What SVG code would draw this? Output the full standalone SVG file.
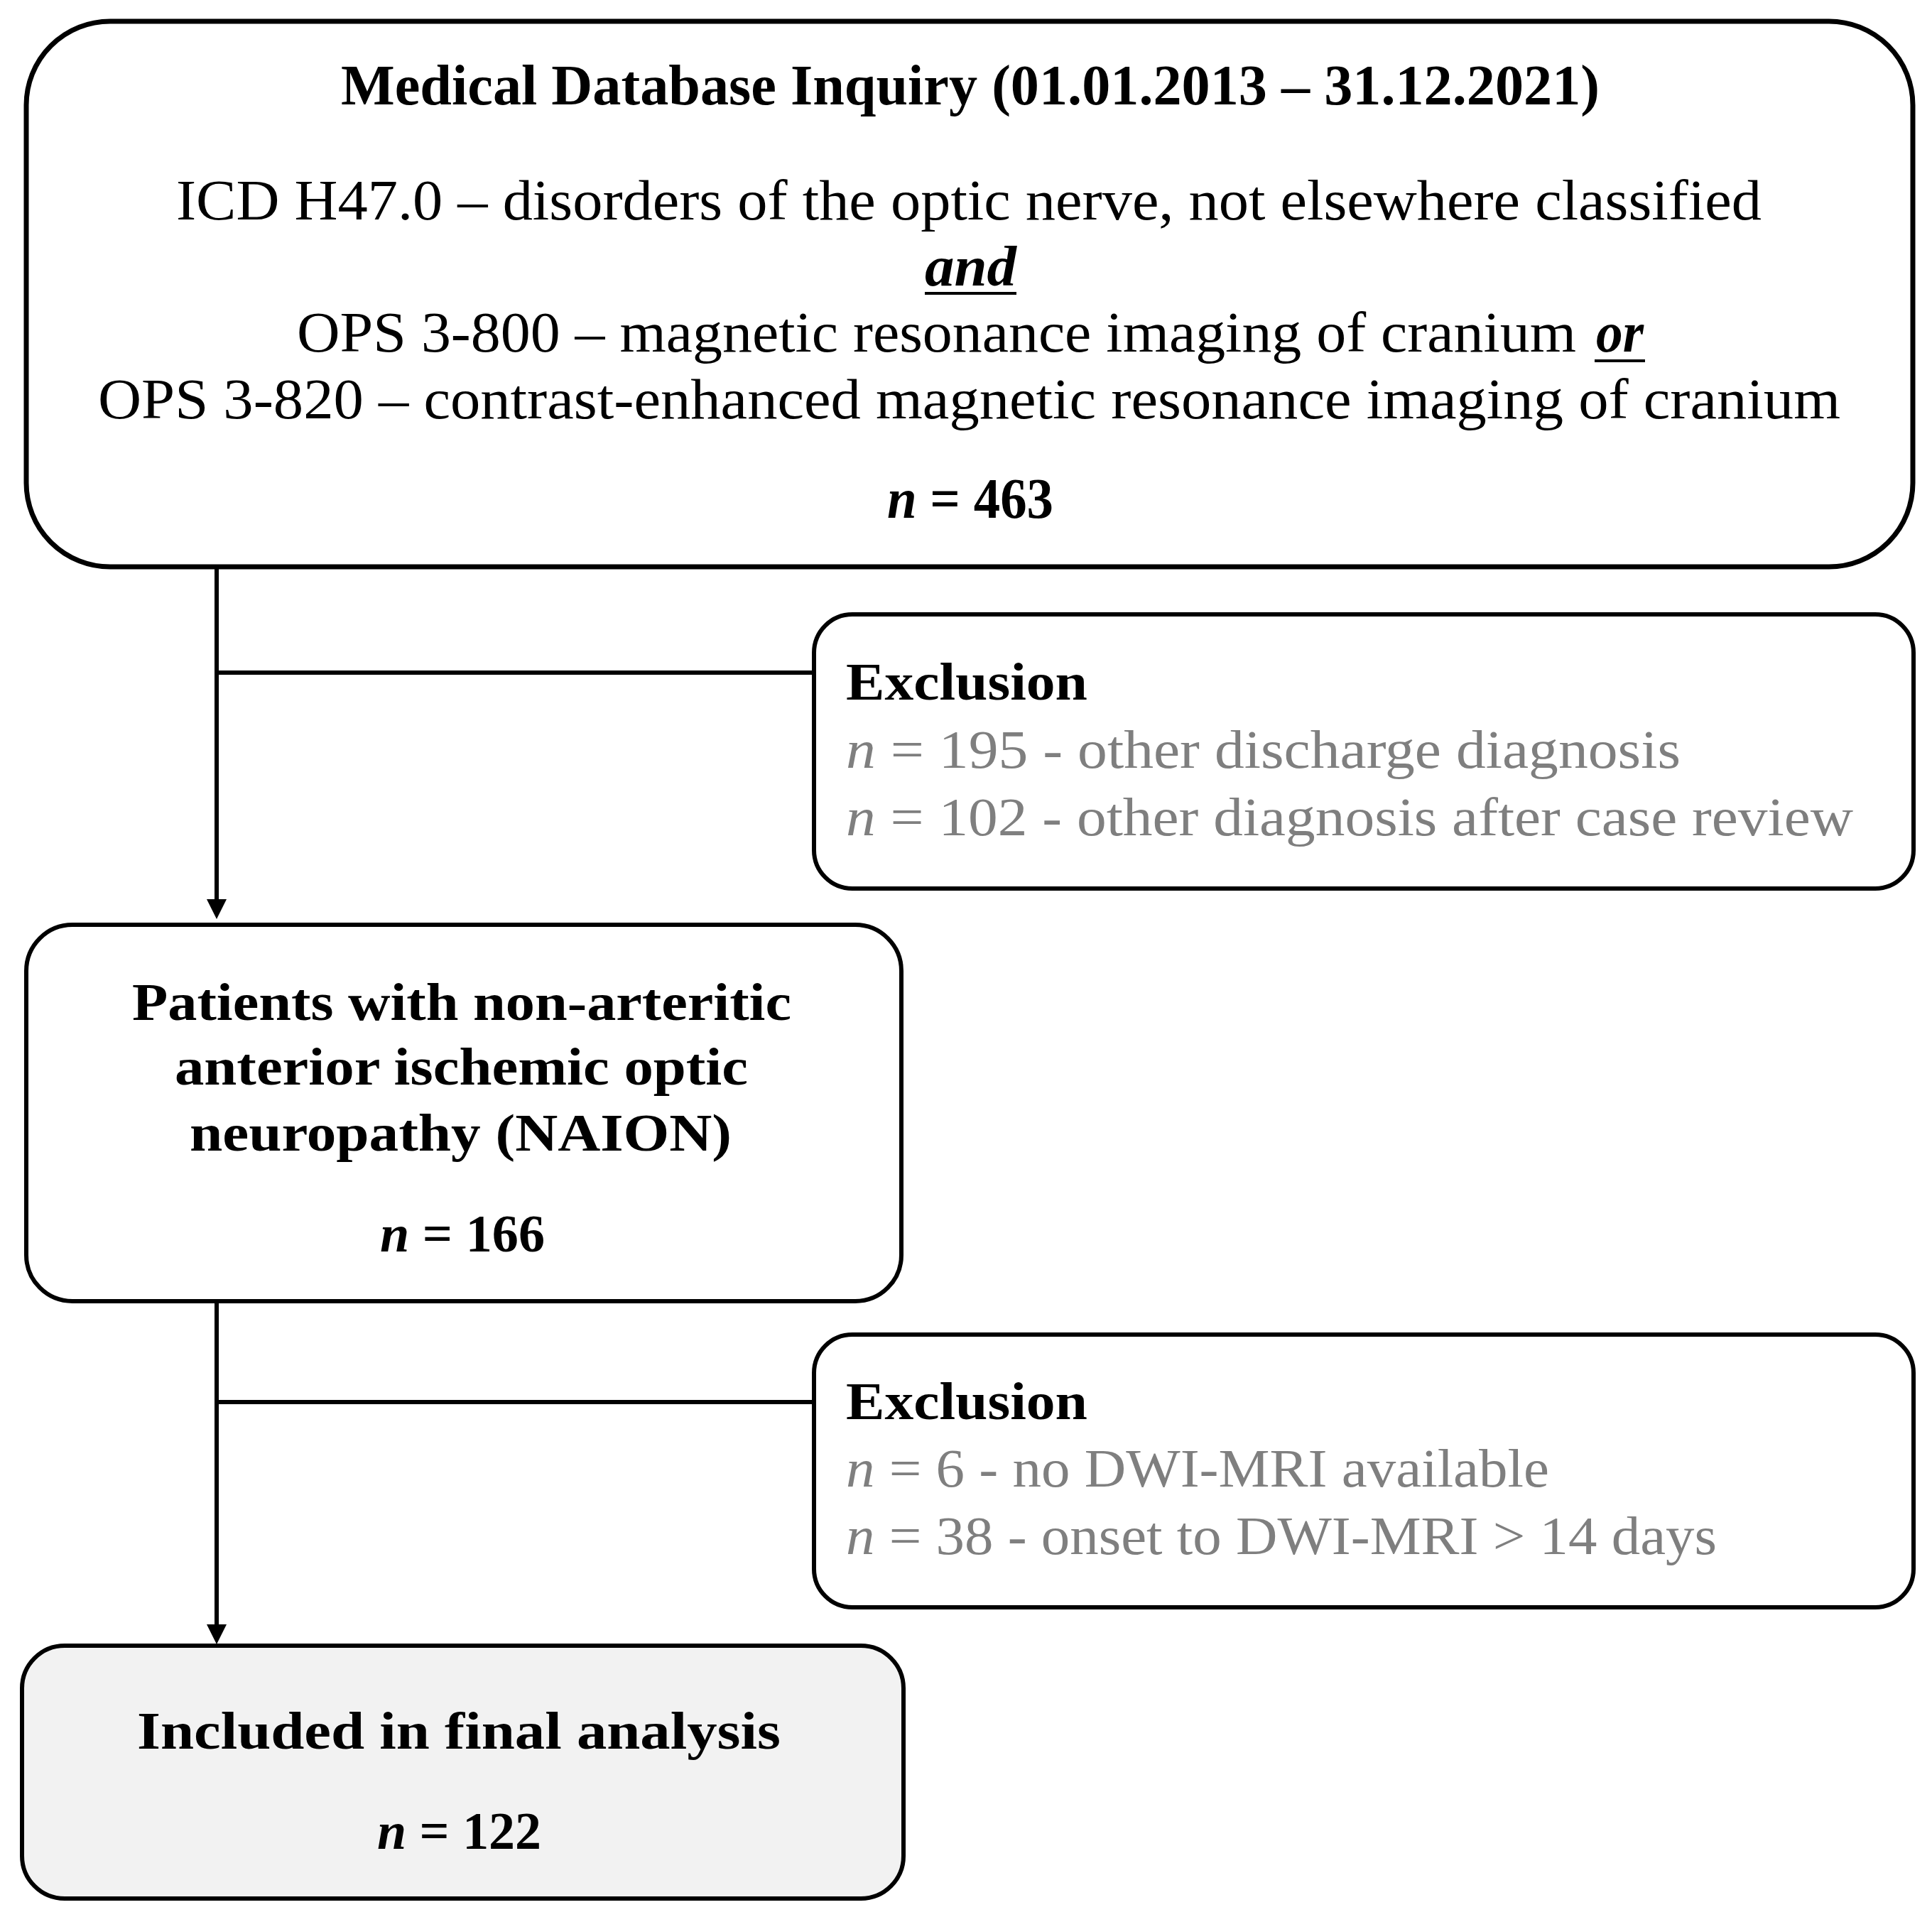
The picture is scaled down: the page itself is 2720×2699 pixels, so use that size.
<svg xmlns="http://www.w3.org/2000/svg" width="2720" height="2699" viewBox="0 0 2720 2699">
<style>
.box{fill:#ffffff;stroke:#000000;stroke-width:7}
.box2{fill:#ffffff;stroke:#000000;stroke-width:6}
.fin{fill:#f2f2f2;stroke:#000000;stroke-width:6}
.conn{stroke:#000000;stroke-width:6;fill:none}
text{font-family:"Liberation Serif","Times New Roman",serif;fill:#000000}
.b{font-weight:bold}
.i{font-style:italic}
.g{fill:#7f7f7f}
.t80{font-size:80px}
.t74{font-size:74px}
.t76{font-size:76px}
</style>
<defs>
<marker id="arr" markerUnits="userSpaceOnUse" markerWidth="28" markerHeight="28" refX="18" refY="14" orient="auto">
<path d="M0,0 L28,14 L0,28 z" fill="#000000"/>
</marker>
</defs>
<rect width="2720" height="2699" fill="#ffffff"/>

<g id="connectors">
<path class="conn" d="M305,798 V1284" marker-end="url(#arr)"/>
<path class="conn" d="M305,947 H1146"/>
<path class="conn" d="M305,1832 V2305" marker-end="url(#arr)"/>
<path class="conn" d="M305,1974 H1146"/>
</g>

<g id="node-database">
<rect class="box" x="37" y="30" width="2656" height="768" rx="118" ry="118"/>
<text class="t80 b" x="480" y="147" textLength="1772" lengthAdjust="spacingAndGlyphs">Medical Database Inquiry (01.01.2013 – 31.12.2021)</text>
<text class="t80" x="248" y="309" textLength="2232" lengthAdjust="spacingAndGlyphs">ICD H47.0 – disorders of the optic nerve, not elsewhere classified</text>
<text class="t80 b i" x="1302" y="402" textLength="129" lengthAdjust="spacingAndGlyphs">and</text>
<line x1="1302" y1="413" x2="1431" y2="413" stroke="#000000" stroke-width="4"/>
<text class="t80" x="418" y="495" textLength="1801" lengthAdjust="spacingAndGlyphs">OPS 3-800 – magnetic resonance imaging of cranium</text>
<text class="t80 b i" x="2247" y="495" textLength="67" lengthAdjust="spacingAndGlyphs">or</text>
<line x1="2245" y1="508" x2="2316" y2="508" stroke="#000000" stroke-width="4"/>
<text class="t80" x="138" y="589" textLength="2453" lengthAdjust="spacingAndGlyphs">OPS 3-820 – contrast-enhanced magnetic resonance imaging of cranium</text>
<text class="t80 b" x="1249" y="729" textLength="234" lengthAdjust="spacingAndGlyphs"><tspan class="i">n</tspan> = 463</text>
</g>

<g id="node-exclusion1">
<rect class="box2" x="1146" y="865" width="1548" height="386" rx="54" ry="54"/>
<text class="t74 b" x="1191" y="985" textLength="340" lengthAdjust="spacingAndGlyphs">Exclusion</text>
<text class="t76 g" x="1191" y="1081" textLength="1175" lengthAdjust="spacingAndGlyphs"><tspan class="i">n</tspan> = 195 - other discharge diagnosis</text>
<text class="t76 g" x="1191" y="1176" textLength="1418" lengthAdjust="spacingAndGlyphs"><tspan class="i">n</tspan> = 102 - other diagnosis after case review</text>
</g>

<g id="node-naion">
<rect class="box2" x="37" y="1302" width="1232" height="530" rx="65" ry="65"/>
<text class="t74 b" x="186" y="1436" textLength="928" lengthAdjust="spacingAndGlyphs">Patients with non-arteritic</text>
<text class="t74 b" x="246" y="1527" textLength="807" lengthAdjust="spacingAndGlyphs">anterior ischemic optic</text>
<text class="t74 b" x="267" y="1620" textLength="763" lengthAdjust="spacingAndGlyphs">neuropathy (NAION)</text>
<text class="t74 b" x="535" y="1762" textLength="232" lengthAdjust="spacingAndGlyphs"><tspan class="i">n</tspan> = 166</text>
</g>

<g id="node-exclusion2">
<rect class="box2" x="1146" y="1879" width="1548" height="384" rx="54" ry="54"/>
<text class="t74 b" x="1191" y="1998" textLength="340" lengthAdjust="spacingAndGlyphs">Exclusion</text>
<text class="t76 g" x="1191" y="2093" textLength="990" lengthAdjust="spacingAndGlyphs"><tspan class="i">n</tspan> = 6 - no DWI-MRI available</text>
<text class="t76 g" x="1191" y="2188" textLength="1226" lengthAdjust="spacingAndGlyphs"><tspan class="i">n</tspan> = 38 - onset to DWI-MRI &gt; 14 days</text>
</g>

<g id="node-included">
<rect class="fin" x="31" y="2317" width="1241" height="356" rx="60" ry="60"/>
<text class="t74 b" x="193" y="2462" textLength="906" lengthAdjust="spacingAndGlyphs">Included in final analysis</text>
<text class="t74 b" x="531" y="2603" textLength="231" lengthAdjust="spacingAndGlyphs"><tspan class="i">n</tspan> = 122</text>
</g>
</svg>
